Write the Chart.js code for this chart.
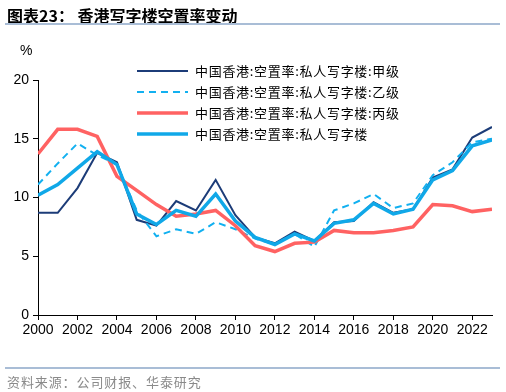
<!DOCTYPE html>
<html>
<head>
<meta charset="utf-8">
<script src="https://cdn.jsdelivr.net/npm/chart.js@4"></script>
<style>
  body { margin: 0; background: #fff; }
  #wrap { position: relative; width: 506px; height: 392px; }
  #title { position: absolute; left: 7px; top: 3px; font: bold 16px "Noto Sans CJK SC"; color: #000; white-space: pre; }
  #topLine { position: absolute; left: 5px; top: 23px; width: 495px; height: 2px; background: #a9bdd6; }
  #botLine { position: absolute; left: 5px; top: 367px; width: 495px; height: 2px; background: #a9bdd6; }
  #source { position: absolute; left: 7px; top: 372px; font: 13px "Noto Sans CJK SC"; color: #8a8a8a; letter-spacing: 0.9px; }
  #unit { position: absolute; left: 20px; top: 42px; font: 14px "Liberation Sans"; color: #000; }
  canvas { position: absolute; left: 0; top: 0; }
</style>
</head>
<body>
<div id="wrap">
  <canvas id="chart" width="506" height="392"></canvas>
  <div id="title">图表23： 香港写字楼空置率变动</div>
  <div id="topLine"></div>
  <div id="unit">%</div>
  <div id="botLine"></div>
  <div id="source">资料来源：公司财报、华泰研究</div>
</div>
<script>
let years=[2000,2001,2002,2003,2004,2005,2006,2007,2008,2009,2010,2011,2012,2013,2014,2015,2016,2017,2018,2019,2020,2021,2022,2023];
let tickYears=[2000,2002,2004,2006,2008,2010,2012,2014,2016,2018,2020,2022];
let yTicks=[0,5,10,15,20];
let gradeA=[8.7,8.7,10.8,13.8,13.0,8.1,7.6,9.7,8.9,11.5,8.5,6.6,6.1,7.1,6.3,7.9,8.0,9.6,8.7,9.0,11.7,12.4,15.1,16.0];
let gradeB=[11.1,12.9,14.6,13.6,12.8,8.9,6.7,7.3,6.9,7.9,7.3,6.5,6.0,6.9,5.8,8.9,9.5,10.3,9.1,9.5,11.9,13.0,14.7,15.0];
let gradeC=[13.7,15.8,15.8,15.2,11.8,10.6,9.4,8.4,8.6,8.9,7.6,5.9,5.4,6.1,6.2,7.2,7.0,7.0,7.2,7.5,9.4,9.3,8.8,9.0];
let overall=[10.2,11.1,12.5,13.9,12.8,8.6,7.7,8.9,8.4,10.3,8.0,6.6,6.0,6.9,6.3,7.8,8.1,9.5,8.6,9.0,11.5,12.3,14.4,14.9];
let names=['中国香港:空置率:私人写字楼:甲级','中国香港:空置率:私人写字楼:乙级','中国香港:空置率:私人写字楼:丙级','中国香港:空置率:私人写字楼'];

function pts(vals){
  return years.map((y,i)=>({x:y,y:vals[i]}));
}

// legend drawn as a vertical list inside the plot, like the original
let lineLegend={
  id:'lineLegend',
  afterDraw(chart){
    let ctx=chart.ctx;
    chart.data.datasets.forEach((ds,i)=>{
      let y=71+i*21;
      ctx.save();
      ctx.strokeStyle=ds.borderColor;
      ctx.lineWidth=ds.borderWidth;
      ctx.setLineDash(ds.borderDash||[]);
      ctx.beginPath();
      ctx.moveTo(137,y);
      ctx.lineTo(188,y);
      ctx.stroke();
      ctx.setLineDash([]);
      ctx.fillStyle='#000';
      ctx.font='13px "Noto Sans CJK SC"';
      ctx.letterSpacing='0.7px';
      ctx.textBaseline='middle';
      ctx.fillText(ds.label,195,y);
      ctx.restore();
    });
  }
};

let ctx=document.getElementById('chart').getContext('2d');
let myChart=new Chart(ctx,{
  type:'line',
  data:{
    datasets:[
      {label:names[0],data:pts(gradeA),borderColor:'#1c3c78',borderWidth:2,pointRadius:0,tension:0,order:4},
      {label:names[1],data:pts(gradeB),borderColor:'#12b0f0',borderWidth:2,borderDash:[7,5],pointRadius:0,tension:0,order:3},
      {label:names[2],data:pts(gradeC),borderColor:'#ff6262',borderWidth:3.5,pointRadius:0,tension:0,order:2},
      {label:names[3],data:pts(overall),borderColor:'#10a8e8',borderWidth:3.5,pointRadius:0,tension:0,order:1}
    ]
  },
  options:{
    responsive:false,
    animation:false,
    layout:{padding:{left:0,top:80,right:14,bottom:52}},
    plugins:{legend:{display:false},tooltip:{enabled:false}},
    scales:{
      x:{
        type:'linear',min:2000,max:2023,
        afterBuildTicks:s=>{s.ticks=tickYears.map(v=>({value:v}));},
        afterFit:s=>{s.height=25;},
        border:{color:'#000',width:1},
        grid:{drawOnChartArea:false,color:'#000',tickLength:5},
        ticks:{color:'#000',font:{family:'Liberation Sans',size:14},padding:2,maxRotation:0,callback:v=>String(v)}
      },
      y:{
        min:0,max:20,
        afterBuildTicks:s=>{s.ticks=yTicks.map(v=>({value:v}));},
        afterFit:s=>{s.width=38;},
        border:{color:'#000',width:1},
        grid:{drawOnChartArea:false,color:'#000',tickLength:5},
        ticks:{color:'#000',font:{family:'Liberation Sans',size:14},padding:4}
      }
    }
  },
  plugins:[lineLegend]
});
</script>
</body>
</html>
